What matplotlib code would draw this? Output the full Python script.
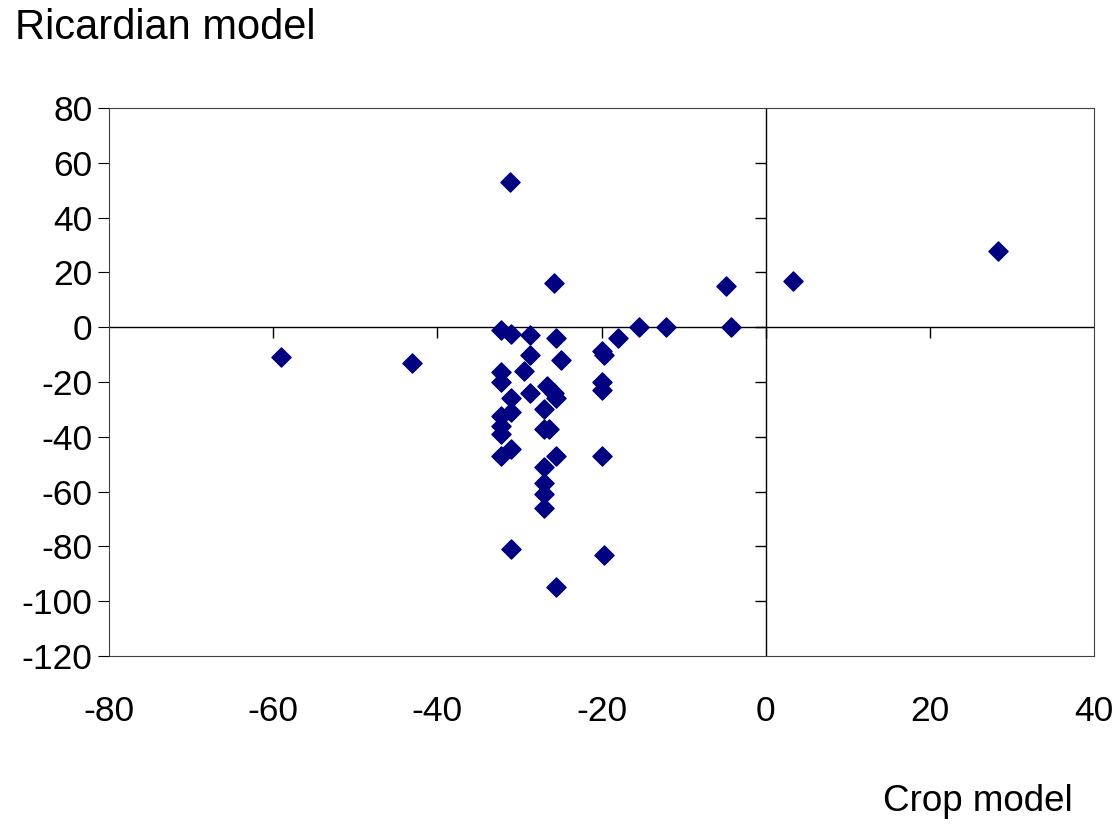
import numpy as np
import matplotlib.pyplot as plt

plt.rcParams['font.family'] = ['Liberation Sans', 'DejaVu Sans']
plt.rcParams['axes.unicode_minus'] = False

crop_model = [-59.1, -43.1, -31.1, -25.8, -4.8, 3.3, 28.3, -32.2, -31.0, -28.7,
              -25.5, -28.7, -25.0, -29.5, -32.2, -32.2, -26.6, -31.0, -28.7, -25.8,
              -25.5, -27.0, -31.0, -32.2, -32.2, -32.2, -27.0, -26.4, -31.0, -32.2,
              -25.5, -19.9, -27.0, -27.0, -27.0, -27.0, -31.0, -19.7, -25.5, -19.9,
              -19.7, -18.0, -15.5, -12.2, -4.3, -19.9, -19.9]
ricardian = [-11, -13, 53, 16, 15, 17, 28, -1, -2.5, -3,
             -4, -10, -12, -16, -16.5, -20, -21.5, -26, -24, -24,
             -26, -30, -31, -32.5, -36, -39, -37, -37, -44.5, -47,
             -47, -47, -51, -57, -61, -66, -81, -83, -95, -8.5,
             -10, -4, 0, 0, 0, -20, -23]

xticks = np.arange(-80, 41, 20)
yticks = np.arange(-120, 81, 20)

fig = plt.figure(figsize=(11.2, 8.26), dpi=100)
ax = fig.add_axes([0.0973, 0.206, 0.8797, 0.663])

ax.axhline(0, color='black', lw=1, zorder=1)
ax.axvline(0, color='black', lw=1, zorder=1)
# tick marks on the crossing axes
ax.plot(xticks[1:-1], np.zeros(len(xticks) - 2), linestyle='none', marker=3, ms=8, color='black', mew=1)
ax.plot(np.zeros(len(yticks) - 2), yticks[1:-1], linestyle='none', marker=0, ms=8, color='black', mew=1)

ax.scatter(crop_model, ricardian, marker='D', s=95, color='#000080', zorder=3)

ax.set_xlim(-80, 40)
ax.set_ylim(-120, 80)
ax.set_xticks(xticks)
ax.set_yticks(yticks)
ax.tick_params(axis='x', length=0, pad=28, labelsize=25.5)
ax.tick_params(axis='y', length=8, direction='out', pad=4, labelsize=25.5)
for s in ax.spines.values():
    s.set_color('#404040')

fig.text(0.013, 0.99, 'Ricardian model', fontsize=30, va='top', ha='left')
fig.text(0.958, 0.008, 'Crop model', fontsize=26.5, va='bottom', ha='right')

fig.savefig('out.png', dpi=100)
